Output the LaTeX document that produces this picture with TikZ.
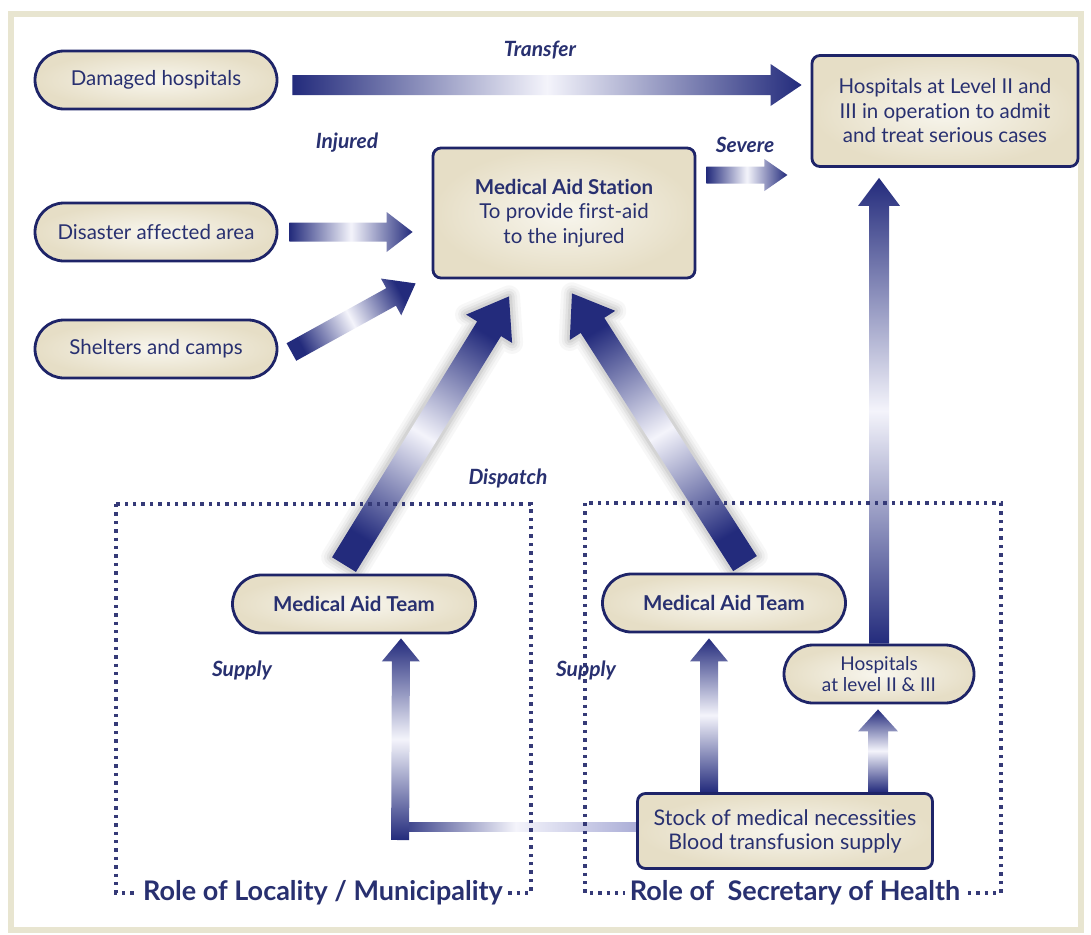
\documentclass[tikz,border=0pt]{standalone}
\usepackage{fontspec}
\setmainfont{Lato}[Ligatures={NoCommon}]
\usetikzlibrary{calc}
\definecolor{bord}{HTML}{1E2468}
\definecolor{txt}{HTML}{283070}
\definecolor{adark}{HTML}{232B7C}
\definecolor{alight}{HTML}{F4F4FB}
\definecolor{amid}{HTML}{A9ACD6}
\definecolor{fillL}{HTML}{F8F6EE}
\definecolor{fillD}{HTML}{E6DEC6}
\definecolor{framec}{HTML}{E8E5D0}
\pgfdeclarelayer{back}
\pgfdeclarelayer{bg}
\pgfsetlayers{back,bg,main}
% polygon of a fat arrow from (fa-a) to (fa-b), head base (fa-c)
\newcommand\fatpath[2]{($(fa-a)!#1!90:(fa-b)$) -- ($(fa-c)!#1!90:(fa-b)$) -- ($(fa-c)!#2!90:(fa-b)$)
    -- (fa-b) -- ($(fa-c)!#2!-90:(fa-b)$) -- ($(fa-c)!#1!-90:(fa-b)$)
    -- ($(fa-a)!#1!-90:(fa-b)$) -- cycle}
% #1 tail, #2 tip, #3 half shaft, #4 half head, #5 head length, #6 shading angle
\newcommand\fatarrow[6]{%
  \coordinate (fa-a) at (#1);
  \coordinate (fa-b) at (#2);
  \coordinate (fa-c) at ($(fa-b)!#5!(fa-a)$);
  \shade[arrowshade, shading angle=#6] \fatpath{#3}{#4};
}
\newcommand\glowarrow[6]{%
  \coordinate (fa-a) at (#1);
  \coordinate (fa-b) at (#2);
  \coordinate (fa-c) at ($(fa-b)!#5!(fa-a)$);
  \foreach \w/\o in {22/0.04, 16/0.05, 11/0.07, 6/0.09}
    \draw[draw=black!70, line width=\w pt, opacity=\o, line join=round] \fatpath{#3}{#4};
  \shade[arrowshade, shading angle=#6] \fatpath{#3}{#4};
}
\begin{document}
\begin{tikzpicture}[x=1pt,y=-1pt,
  base/.style={draw=bord, line width=2.8pt, inner color=fillL, outer color=fillD,
    text=txt, align=center, inner sep=0pt},
  pill/.style={base, rounded corners=29pt, minimum height=58pt},
  rbox/.style={base, rounded corners=8pt},
  body/.style={font=\fontsize{20.5}{24.5}\selectfont},
  bodyb/.style={font=\fontsize{20.5}{24.5}\selectfont\bfseries},
  lab/.style={text=txt, font=\fontsize{21}{24}\selectfont\bfseries\itshape, inner sep=0pt},
  role/.style={text=txt, fill=white, font=\fontsize{27}{30}\selectfont\bfseries, inner xsep=5pt, inner ysep=2pt},
  dotline/.style={draw=bord!90, line width=3.4pt, dash pattern=on 3.4pt off 5pt},
  arrowshade/.style={left color=adark, right color=adark, middle color=alight}
]
\begin{pgfonlayer}{back}
\useasboundingbox (0,0) rectangle (1091,934);
\fill[white] (0,0) rectangle (1091,934);
\draw[framec, line width=6pt] (11,14) rectangle (1081,930);
\end{pgfonlayer}

% dotted role boxes
\draw[dotline] (116,504) rectangle (531,893);
\draw[dotline] (585,503) rectangle (1001,893);
\node[role] (rl) at (323,893) {Role of Locality / Municipality};
\node[role] (rs) at (795,893) {Role of \ Secretary of Health};

% nodes
\node[pill, body, minimum width=242pt] (dh) at (156,80) {Damaged hospitals};
\node[pill, body, minimum width=242pt] (da) at (156,232) {Disaster affected area};
\node[pill, body, minimum width=242pt] (sc) at (156,349) {Shelters and camps};
\node[rbox, body, minimum width=262pt, minimum height=130pt] (mas) at (564,213)
  {{\bfseries Medical Aid Station}\\To provide first-aid\\to the injured};
\node[rbox, body, minimum width=266pt, minimum height=111pt] (hosp) at (945,111)
  {Hospitals at Level II and\\III in operation to admit\\and treat serious cases};
\node[pill, bodyb, minimum width=243pt] (mat1) at (354,604) {Medical Aid Team};
\node[pill, bodyb, minimum width=243pt] (mat2) at (724,603) {Medical Aid Team};
\node[pill, font=\fontsize{19}{21}\selectfont, minimum width=190pt] (hosp2) at (879,674)
  {Hospitals\\at level II \& III};
\node[rbox, font=\fontsize{21.5}{24}\selectfont, minimum width=295pt, minimum height=75pt] (stock) at (785,831)
  {Stock of medical necessities\\Blood transfusion supply};

% labels
\node[lab] (ltr) at (540,50) {Transfer};
\node[lab] (linj) at (347,143) {Injured};
\node[lab] (lsev) at (745,145) {Severe};
\node[lab] (ldis) at (508,478) {Dispatch};
\node[lab] (lsu1) at (242,670) {Supply};
\node[lab] (lsu2) at (586,670) {Supply};

% arrows
\begin{pgfonlayer}{bg}
\fatarrow{$(dh.east)+(14,5)$}{$(hosp.west)+(-9,-26)$}{10pt}{21pt}{31pt}{90}
\fatarrow{$(da.east)+(11,0)$}{$(mas.west)+(-19,19)$}{9.5pt}{20pt}{26pt}{90}
\fatarrow{$(sc.east)+(13,3)$}{$(mas.south west)+(-16,4)$}{10pt}{21pt}{28pt}{-62}
\fatarrow{$(mas.east)+(10,-38)$}{$(mas.east)+(91,-38)$}{8.5pt}{16pt}{23pt}{90}
\glowarrow{$(mat1.north)+(-10,-9)$}{$(mas.south)+(-55,17)$}{14pt}{27pt}{38pt}{-32}
\glowarrow{$(mat2.north)+(21,-9)$}{$(mas.south)+(8,14)$}{14pt}{27pt}{38pt}{31}
\fatarrow{hosp2.north}{$(hosp.south)+(-66,10)$}{10pt}{21pt}{28pt}{0}
\fatarrow{$(stock.north)+(-76,0)$}{$(mat2.south)+(-15,5)$}{9pt}{19pt}{23pt}{0}
\fatarrow{$(stock.north)+(93,0)$}{$(hosp2.south)+(-1,5)$}{10pt}{20pt}{22pt}{0}
\coordinate (corner) at ($(stock.west)+(-236,9)$);
\shade[left color=adark, right color=amid, middle color=alight]
  ($(corner)+(-9,-18)$) rectangle ($(stock.west)+(4,0)$);
\fatarrow{corner}{$(mat1.south)+(47,4)$}{9pt}{19pt}{23pt}{0}
\end{pgfonlayer}
\end{tikzpicture}
\end{document}
